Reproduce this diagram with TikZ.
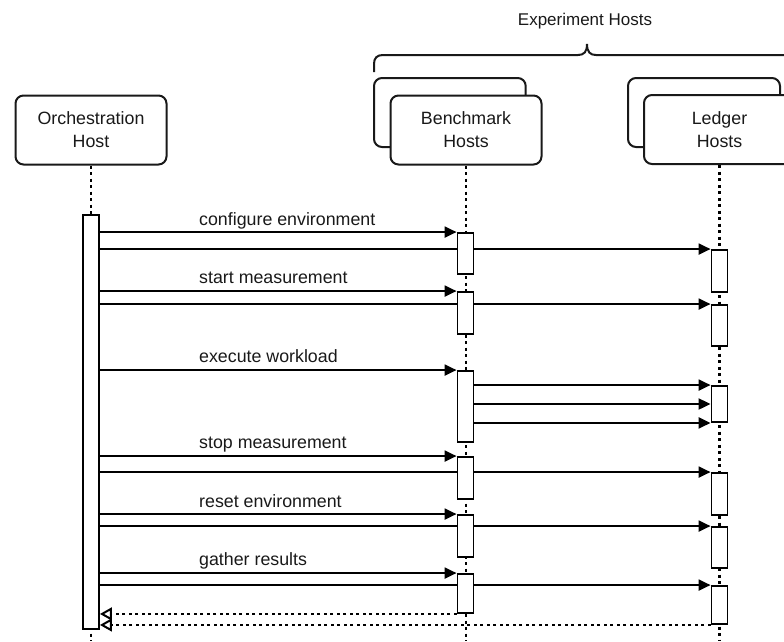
\documentclass[tikz,border=0pt]{standalone}
\usepackage{fontspec}
\setmainfont{Liberation Sans}
\usetikzlibrary{arrows.meta,backgrounds}
\begin{document}
\begin{tikzpicture}[x=1pt,y=-1pt,
  hostbox/.style={draw=black!90,line width=2pt,rounded corners=8pt,fill=white,minimum width=151pt,minimum height=69pt,align=center,font=\fontsize{17.8}{23}\selectfont,text=black!90},
  backbox/.style={draw=black!90,line width=2pt,rounded corners=8pt,fill=white},
  bar/.style={draw=black,line width=1.9pt,fill=white,minimum width=16pt,inner sep=0pt},
  msg/.style={line width=2.1pt,draw=black,-{Triangle[length=12pt,width=11pt]}},
  ret/.style={line width=2.2pt,draw=black,dash pattern=on 3pt off 3.5pt,-{Triangle[open,length=12pt,width=13pt,line width=2pt,fill=white]}},
  life/.style={line width=2.2pt,draw=black,dash pattern=on 3pt off 3.5pt},
  lbl/.style={anchor=base west,inner sep=0pt,font=\fontsize{17.8}{21}\selectfont,text=black!90}
]
\useasboundingbox (0,0) rectangle (784,641);
\clip (0,0) rectangle (784,641);
\coordinate (bottom) at (0,641);

% brace and group title
\node[font=\fontsize{17}{20}\selectfont,text=black!90] (exphosts) at (585,21) {Experiment Hosts};
\draw[line width=2pt,draw=black!90] (374,72) -- (374,64) .. controls (374,58) and (377,55) .. (383,55) -- (578,55)
  .. controls (584,55) and (587,52) .. (587,44)
  .. controls (587,52) and (590,55) .. (596,55) -- (800,55);

% host boxes
\node[hostbox] (orch) at (91,130) {Orchestration\\Host};
\draw[backbox] (374,78) rectangle (525.7,147);
\node[hostbox] (bench) at (466,130) {Benchmark\\Hosts};
\draw[backbox] (628,78) rectangle (780,147);
\node[hostbox] (ledger) at (719.5,129.5) {Ledger\\Hosts};

% activation bars
\node[bar,minimum height=414pt] (ob) at (91,422) {};
\node[bar,minimum height=41pt] (b1) at (465.5,253.5) {};
\node[bar,minimum height=42pt] (b2) at (465.5,313) {};
\node[bar,minimum height=71pt] (b3) at (465.5,406.5) {};
\node[bar,minimum height=42pt] (b4) at (465.5,478) {};
\node[bar,minimum height=42pt] (b5) at (465.5,536) {};
\node[bar,minimum height=39pt] (b6) at (465.5,593.5) {};
\node[bar,minimum height=42pt] (l1) at (719.5,271) {};
\node[bar,minimum height=41pt] (l2) at (719.5,325.5) {};
\node[bar,minimum height=36pt] (l3) at (719.5,404) {};
\node[bar,minimum height=42pt] (l4) at (719.5,494) {};
\node[bar,minimum height=41pt] (l5) at (719.5,547.5) {};
\node[bar,minimum height=38pt] (l6) at (719.5,605) {};

% labels
\node[lbl] (t1) at (199,225) {configure environment};
\node[lbl] (t2) at (199,283) {start measurement};
\node[lbl] (t3) at (199,362) {execute workload};
\node[lbl] (t4) at (199,448) {stop measurement};
\node[lbl] (t5) at (199,507) {reset environment};
\node[lbl] (t6) at (199,565) {gather results};

\begin{pgfonlayer}{background}
  % lifelines
  \draw[life] (orch.south) -- (orch.south |- bottom);
  \draw[life] (bench.south) -- (bench.south |- bottom);
  \draw[life] (ledger.south) -- (ledger.south |- bottom);
  % messages
  \draw[msg] (ob.east |- b1.north west) -- (b1.north west);
  \draw[msg] (ob.east |- l1.north west) -- (l1.north west);
  \draw[msg] (ob.east |- b2.north west) -- (b2.north west);
  \draw[msg] (ob.east |- l2.north west) -- (l2.north west);
  \draw[msg] (ob.east |- b3.north west) -- (b3.north west);
  \draw[msg] (b3.east |- l3.north west) -- (l3.north west);
  \draw[msg] (b3.east |- l3.west) -- (l3.west);
  \draw[msg] (b3.east |- l3.south west) -- (l3.south west);
  \draw[msg] (ob.east |- b4.north west) -- (b4.north west);
  \draw[msg] (ob.east |- l4.north west) -- (l4.north west);
  \draw[msg] (ob.east |- b5.north west) -- (b5.north west);
  \draw[msg] (ob.east |- l5.north west) -- (l5.north west);
  \draw[msg] (ob.east |- b6.north west) -- (b6.north west);
  \draw[msg] (ob.east |- l6.north west) -- (l6.north west);
  % returns
  \draw[ret] (b6.south west) -- (ob.east |- b6.south west);
  \draw[ret] (l6.south west) -- (ob.east |- l6.south west);
\end{pgfonlayer}
\end{tikzpicture}
\end{document}
